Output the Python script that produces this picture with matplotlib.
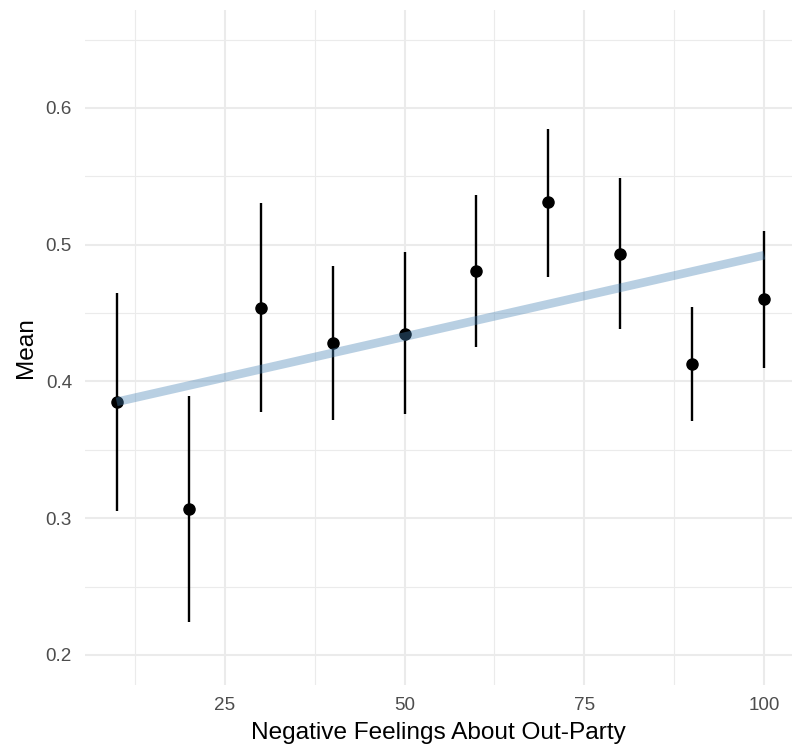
import numpy as np
import matplotlib
matplotlib.use("Agg")
import matplotlib.pyplot as plt
from matplotlib.ticker import FixedLocator

# Data
x_vals = [10, 20, 30, 40, 50, 60, 70, 80, 90, 100]
means = [0.385, 0.307, 0.454, 0.428, 0.435, 0.481, 0.531, 0.493, 0.413, 0.460]
lower = [0.3055, 0.2244, 0.3775, 0.3718, 0.3760, 0.4255, 0.4764, 0.4382, 0.3713, 0.4097]
upper = [0.4645, 0.3894, 0.5307, 0.4847, 0.4947, 0.5366, 0.5846, 0.5486, 0.4547, 0.5098]

x_major = [25, 50, 75, 100]
x_minor = [12.5, 37.5, 62.5, 87.5]
y_major = [0.2, 0.3, 0.4, 0.5, 0.6]
y_minor = [0.15, 0.25, 0.35, 0.45, 0.55, 0.65]

plt.rcParams['font.family'] = ['Liberation Sans', 'DejaVu Sans']

W, H = 792, 744
fig = plt.figure(figsize=(W / 100, H / 100), dpi=100)
left, right, top, bottom = 84.5, 792, 9.5, 685
ax = fig.add_axes([left / W, 1 - bottom / H, (right - left) / W, (bottom - top) / H])

x = np.array(x_vals, dtype=float)
m = np.array(means)
lo = np.array(lower)
hi = np.array(upper)

# grid
for v in x_major:
    ax.axvline(v, color='#EBEBEB', lw=1.5, zorder=0)
for v in x_minor:
    ax.axvline(v, color='#EBEBEB', lw=0.8, zorder=0)
for v in y_major:
    ax.axhline(v, color='#EBEBEB', lw=1.5, zorder=0)
for v in y_minor:
    ax.axhline(v, color='#EBEBEB', lw=0.8, zorder=0)

# error bars and points
ax.vlines(x, lo, hi, color='black', lw=1.7, zorder=2)
ax.plot(x, m, 'o', color='black', markersize=8, zorder=3)

# linear fit through means
slope, intercept = np.polyfit(x, m, 1)
xf = np.array([x.min(), x.max()])
ax.plot(xf, intercept + slope * xf, color='steelblue', alpha=0.38, lw=6.2,
        solid_capstyle='butt', zorder=4)

ax.set_xlim(5.53, 103.85)
ax.set_ylim(0.178, 0.672)
ax.xaxis.set_major_locator(FixedLocator(x_major))
ax.yaxis.set_major_locator(FixedLocator(y_major))
ax.set_xticklabels([str(v) for v in x_major])
ax.set_yticklabels([f"{v:.1f}" for v in y_major])
for s in ax.spines.values():
    s.set_visible(False)
ax.tick_params(length=0, labelsize=13.6, labelcolor='#4D4D4D', pad=9)

ax.set_xlabel('Negative Feelings About Out-Party', fontsize=17.6, color='black', labelpad=5.5)
ax.set_ylabel('Mean', fontsize=17.6, color='black', labelpad=6)

fig.savefig('out.png', dpi=100)
